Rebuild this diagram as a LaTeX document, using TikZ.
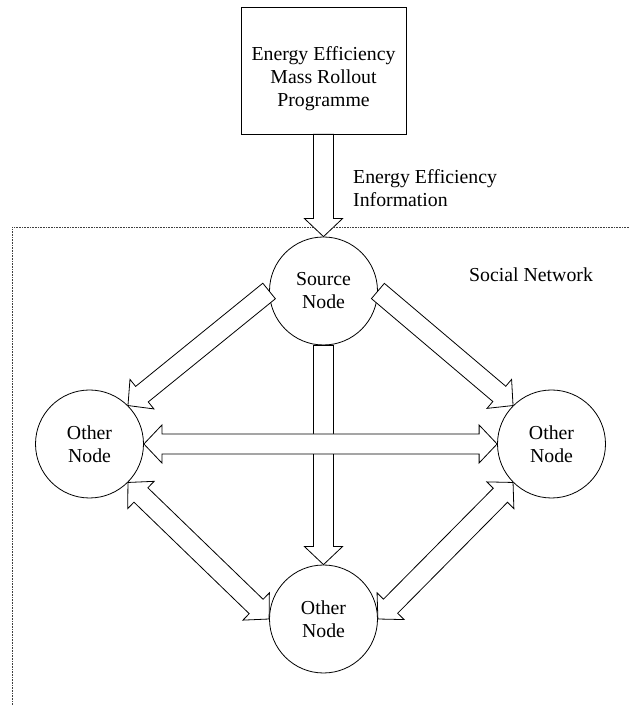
\documentclass[tikz,border=0pt]{standalone}
\usepackage{fontspec}
\setmainfont{Liberation Serif}
\usetikzlibrary{calc}

% hollow block arrow from #1 to #2, head at #2
% shaft half-width 10pt, head half-width 19pt, head length 18pt
\newcommand\hollowarrow[2]{%
  \path[blockarrow] let \p1=(#1), \p2=(#2),
      \n1={veclen(\x2-\x1,\y2-\y1)}, \n2={atan2(\y2-\y1,\x2-\x1)} in
    ($(\p1)+(\n2+90:10pt)$)
    -- ($(\p1)+(\n2:\n1-18pt)+(\n2+90:10pt)$)
    -- ($(\p1)+(\n2:\n1-18pt)+(\n2+90:19pt)$)
    -- (\p2)
    -- ($(\p1)+(\n2:\n1-18pt)+(\n2-90:19pt)$)
    -- ($(\p1)+(\n2:\n1-18pt)+(\n2-90:10pt)$)
    -- ($(\p1)+(\n2-90:10pt)$)
    -- cycle;
}

% hollow block arrow between #1 and #2, heads at both ends
\newcommand\hollowdouble[2]{%
  \path[blockarrow] let \p1=(#1), \p2=(#2),
      \n1={veclen(\x2-\x1,\y2-\y1)}, \n2={atan2(\y2-\y1,\x2-\x1)} in
    (\p1)
    -- ($(\p1)+(\n2:18pt)+(\n2+90:19pt)$)
    -- ($(\p1)+(\n2:18pt)+(\n2+90:10pt)$)
    -- ($(\p1)+(\n2:\n1-18pt)+(\n2+90:10pt)$)
    -- ($(\p1)+(\n2:\n1-18pt)+(\n2+90:19pt)$)
    -- (\p2)
    -- ($(\p1)+(\n2:\n1-18pt)+(\n2-90:19pt)$)
    -- ($(\p1)+(\n2:\n1-18pt)+(\n2-90:10pt)$)
    -- ($(\p1)+(\n2:18pt)+(\n2-90:10pt)$)
    -- ($(\p1)+(\n2:18pt)+(\n2-90:19pt)$)
    -- cycle;
}

\tikzset{
  txt/.style={font=\fontsize{19.8}{23}\selectfont, inner sep=0pt},
  netnode/.style={circle, draw, line width=0.8pt, minimum size=108pt,
    inner sep=0pt, align=center, txt},
  progbox/.style={draw, line width=0.8pt, minimum width=165pt,
    minimum height=127pt, inner sep=0pt},
  blockarrow/.style={draw, fill=white, line width=0.8pt, line join=miter},
  border/.style={line width=0.7pt, black!75, dash pattern=on 0.8pt off 0.8pt},
}

\begin{document}
\begin{tikzpicture}[x=1pt, y=1pt]
  \useasboundingbox (0,0) rectangle (629,705);

  % social network boundary
  \draw[border] (12,0) coordinate (bl) -- (12,478) -- (629,478) coordinate (tr);

  % programme box
  \node[progbox] (prog) at (323.5,634.5) {};
  \node[txt, align=center] (progtext) at (323.5,626)
    {Energy Efficiency\\Mass Rollout\\Programme};

  % network nodes
  \node[netnode] (src) at (323.5,414) {Source\\Node};
  \node[netnode] (lft) at (89.5,261)  {Other\\Node};
  \node[netnode] (rgt) at (551.5,261) {Other\\Node};
  \node[netnode] (bot) at (323.5,86)  {Other\\Node};

  % labels
  \node[txt, align=left, anchor=west] (infolabel) at (353,517)
    {Energy Efficiency\\Information};
  \node[txt, anchor=base west] (netlabel) at (469,423) {Social Network};

  % connectors
  \hollowarrow{prog.south}{src.north}
  \hollowarrow{src.west}{lft.45}
  \hollowarrow{src.east}{rgt.135}
  \hollowarrow{src.south}{bot.north}
  \hollowdouble{lft.east}{rgt.west}
  \hollowdouble{lft.-45}{bot.west}
  \hollowdouble{rgt.-135}{bot.east}
\end{tikzpicture}
\end{document}
